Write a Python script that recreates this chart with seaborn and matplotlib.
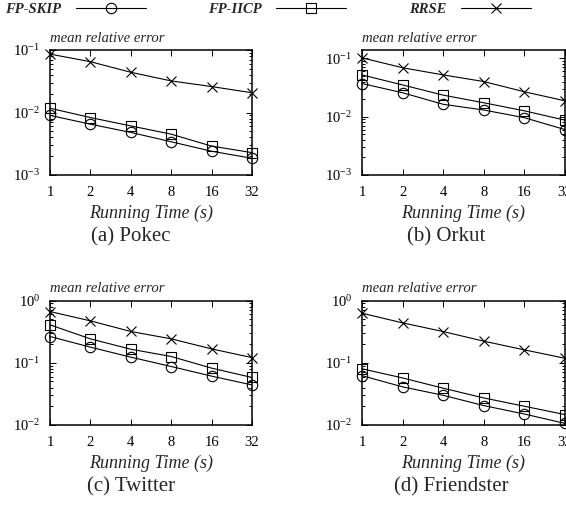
import matplotlib
matplotlib.use("Agg")
import numpy as np
import matplotlib.pyplot as plt
import matplotlib.ticker as mticker
import seaborn as sb

times = [1, 2, 4, 8, 16, 32]
methods = ['FP-SKIP', 'FP-IICP', 'RRSE']

# mean relative error
pokec_skip = [0.0090, 0.0065, 0.0048, 0.0034, 0.0024, 0.00185]
pokec_iicp = [0.0117, 0.0083, 0.0061, 0.0045, 0.0029, 0.00228]
pokec_rrse = [0.086, 0.065, 0.044, 0.032, 0.026, 0.0207]

orkut_skip = [0.037, 0.0257, 0.0163, 0.0130, 0.0096, 0.0060]
orkut_iicp = [0.052, 0.035, 0.0234, 0.0173, 0.0126, 0.0087]
orkut_rrse = [0.102, 0.069, 0.052, 0.040, 0.0267, 0.0187]

twitter_skip = [0.264, 0.178, 0.123, 0.087, 0.061, 0.044]
twitter_iicp = [0.406, 0.242, 0.165, 0.126, 0.082, 0.058]
twitter_rrse = [0.665, 0.471, 0.318, 0.242, 0.167, 0.121]

friend_skip = [0.062, 0.041, 0.030, 0.0205, 0.0150, 0.0106]
friend_iicp = [0.080, 0.057, 0.039, 0.0272, 0.0200, 0.0147]
friend_rrse = [0.625, 0.437, 0.317, 0.222, 0.161, 0.118]

panels = [
    ('(a) Pokec', [pokec_skip, pokec_iicp, pokec_rrse], (1e-3, 1e-1)),
    ('(b) Orkut', [orkut_skip, orkut_iicp, orkut_rrse], (1e-3, 0.139)),
    ('(c) Twitter', [twitter_skip, twitter_iicp, twitter_rrse], (1e-2, 1)),
    ('(d) Friendster', [friend_skip, friend_iicp, friend_rrse], (1e-2, 1)),
]

sb.set_style("ticks")
plt.rcParams['font.family'] = ['Liberation Serif', 'DejaVu Serif']
plt.rcParams['mathtext.fontset'] = 'custom'
plt.rcParams['mathtext.rm'] = 'Liberation Serif'
plt.rcParams['mathtext.it'] = 'Liberation Serif:italic'
plt.rcParams['axes.linewidth'] = 1.1
plt.rcParams['axes.edgecolor'] = 'black'

W, H = 566, 514
fig = plt.figure(figsize=(W / 100, H / 100), dpi=100)

# axes boxes in pixels: left, top, right, bottom
boxes = [(50, 50, 252, 175), (362, 50, 565, 175),
         (50, 300.5, 252, 425), (362, 300.5, 565, 425)]
caption_x = [131, 446, 131, 451]

markers = {'FP-SKIP': 'o', 'FP-IICP': 's', 'RRSE': 'x'}
msizes = {'FP-SKIP': 7.5, 'FP-IICP': 7, 'RRSE': 7.5}

for (name, series, ylim), (l, t, r, b), cx in zip(panels, boxes, caption_x):
    ax = fig.add_axes([l / W, (H - b) / H, (r - l) / W, (b - t) / H])
    for m, vals in zip(methods, series):
        sb.lineplot(x=times, y=vals, marker=markers[m], color='black', linewidth=0.8,
                    markersize=msizes[m], markerfacecolor='none', markeredgecolor='black',
                    markeredgewidth=0.8, clip_on=False, label=m, ax=ax)
    handles, labels = ax.get_legend_handles_labels()
    ax.get_legend().remove()

    ax.set_xscale('log', base=2)
    ax.set_yscale('log')
    ax.set_xlim(1, 32)
    ax.set_ylim(*ylim)
    ax.set_xticks(times)
    ax.xaxis.set_major_formatter(mticker.FixedFormatter([str(v) for v in times]))
    ax.xaxis.set_minor_locator(mticker.NullLocator())
    ax.yaxis.set_minor_locator(mticker.LogLocator(base=10, subs=np.arange(2, 10)))
    ax.yaxis.set_minor_formatter(mticker.NullFormatter())
    ax.tick_params(which='both', direction='in', top=True, right=True,
                   colors='black', labelsize=10.5, width=0.7)
    ax.tick_params(which='major', length=4, pad=7)
    ax.tick_params(which='minor', length=2)
    ax.tick_params(axis='x', pad=8)
    ax.set_xlabel('')
    ax.set_ylabel('')

    fig.text(l / W, (H - t + 12) / H, 'mean relative error', style='italic',
             fontsize=10.6, ha='left', va='center')
    fig.text((l + r) / 2 / W, (H - b - 38) / H, 'Running Time (s)', style='italic',
             fontsize=13, ha='center', va='center')
    fig.text(cx / W, (H - b - 62) / H, name, fontsize=15, ha='center', va='center')

fig.legend(handles, labels, loc='center left', bbox_to_anchor=(5 / W, 1 - 9 / H),
           ncol=3, frameon=False, markerfirst=False, handlelength=4.8,
           handletextpad=1.0, columnspacing=4.3, borderaxespad=0, borderpad=0,
           prop={'family': 'Liberation Serif', 'style': 'italic',
                 'weight': 'bold', 'size': 10.5})

fig.savefig('out.png', dpi=100)
